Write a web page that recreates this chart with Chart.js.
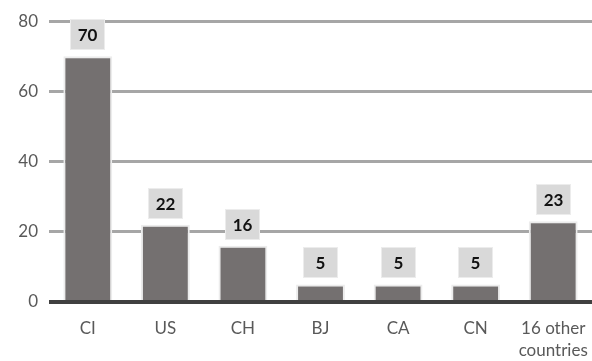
<!DOCTYPE html>
<html>
<head>
<meta charset="utf-8">
<script src="https://cdn.jsdelivr.net/npm/chart.js@4"></script>
<style>
  html, body { margin: 0; padding: 0; background: #fff; }
  #wrap { width: 592px; height: 361px; }
</style>
</head>
<body>
<div id="wrap"><canvas id="myChart"></canvas></div>
<script>
let countries = ["CI", "US", "CH", "BJ", "CA", "CN", ["16 other", "countries"]];
let counts = [70, 22, 16, 5, 5, 5, 23];
let yTicks = [0, 20, 40, 60, 80];

const fontFamily = "Lato, 'Open Sans', sans-serif";

// grey boxes with the count above every bar
const valueBoxes = {
	id: "valueBoxes",
	afterDatasetsDraw(chart) {
		const ctx = chart.ctx;
		const meta = chart.getDatasetMeta(0);
		ctx.save();
		ctx.font = "bold 17px " + fontFamily;
		ctx.textAlign = "center";
		ctx.textBaseline = "middle";
		meta.data.forEach((bar, i) => {
			const w = 35, h = 31;
			const x = Math.round(bar.x - w / 2);
			const y = Math.round(bar.y - 6 - h);
			ctx.fillStyle = "#d9d9d9";
			ctx.fillRect(x, y, w, h);
			ctx.strokeStyle = "#ececec";
			ctx.lineWidth = 1;
			ctx.strokeRect(x + 0.5, y + 0.5, w - 1, h - 1);
			ctx.fillStyle = "#111";
			ctx.fillText(String(counts[i]), x + w / 2, y + h / 2 + 1);
		});
		ctx.restore();
	}
};

let chart = new Chart("myChart", {
	type: "bar",
	data: {
		labels: countries,
		datasets: [{
			data: counts,
			backgroundColor: "#747070",
			borderColor: "#ececec",
			borderWidth: 2,
			categoryPercentage: 1,
			barPercentage: 0.63
		}]
	},
	plugins: [valueBoxes],
	options: {
		responsive: true,
		maintainAspectRatio: false,
		animation: false,
		layout: { padding: { top: 21, right: -3, left: 0, bottom: 0 } },
		plugins: {
			legend: { display: false },
			tooltip: { enabled: false }
		},
		scales: {
			x: {
				grid: { display: false },
				border: { display: false },
				afterFit: (axis) => {
					axis.height = 59;
					axis.paddingLeft = 0;
					axis.paddingRight = 0;
				},
				ticks: {
					color: "#595959",
					font: { family: fontFamily, size: 17, lineHeight: 1.3 },
					padding: 7,
					maxRotation: 0,
					autoSkip: false
				}
			},
			y: {
				min: 0,
				max: 80,
				afterBuildTicks: (axis) => { axis.ticks = yTicks.map(v => ({ value: v })); },
				afterFit: (axis) => { axis.width = 49; },
				border: { display: false },
				grid: {
					drawTicks: false,
					color: (c) => c.tick && c.tick.value === 0 ? "#404040" : "#a6a6a6",
					lineWidth: (c) => c.tick && c.tick.value === 0 ? 4 : 3
				},
				ticks: {
					color: "#595959",
					font: { family: fontFamily, size: 17 },
					padding: 11
				}
			}
		}
	}
});
</script>
</body>
</html>
